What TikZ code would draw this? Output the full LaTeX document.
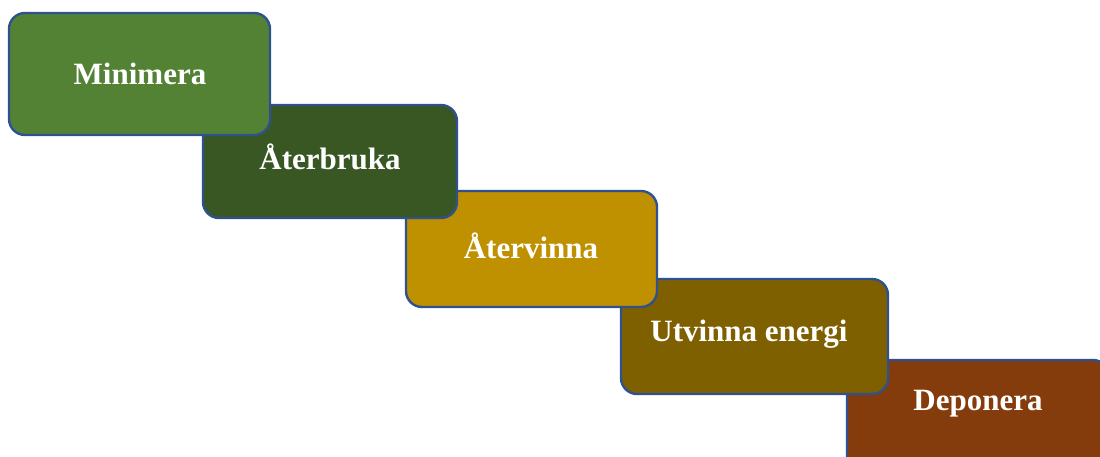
\documentclass[tikz,border=0pt]{standalone}
\usepackage{fontspec}
\setmainfont{Liberation Serif}
\definecolor{cMin}{HTML}{548235}
\definecolor{cAter}{HTML}{385723}
\definecolor{cVinn}{HTML}{BF9000}
\definecolor{cUtv}{HTML}{7F6000}
\definecolor{cDep}{HTML}{843C0C}
\definecolor{cEdge}{HTML}{2F528F}
\tikzset{
  stepbox/.style={draw=cEdge, line width=2.4pt, rounded corners=16pt},
  steplabel/.style={text=white, font=\fontsize{31}{36}\selectfont\bfseries, inner sep=0pt}
}
\begin{document}
\begin{tikzpicture}[x=1pt,y=-1pt]
\useasboundingbox (0,0) rectangle (1100,457);
\clip (0,0) rectangle (1100,457);
% drawn from last to first so earlier steps lie on top
\draw[stepbox, fill=cDep] (847,360) rectangle (1109,475);
\node[steplabel] (dep) at (978,404) {Deponera};
\draw[stepbox, fill=cUtv] (621,279) rectangle (888,394);
\node[steplabel] (utv) at (749,334) {Utvinna energi};
\draw[stepbox, fill=cVinn] (406,191) rectangle (657,307);
\node[steplabel] (vinn) at (531,246) {Återvinna};
\draw[stepbox, fill=cAter] (203,105) rectangle (457,218);
\node[steplabel] (ater) at (330,157) {Återbruka};
\draw[stepbox, fill=cMin] (9,13) rectangle (270,135);
\node[steplabel] (min) at (140,74) {Minimera};
\end{tikzpicture}
\end{document}
